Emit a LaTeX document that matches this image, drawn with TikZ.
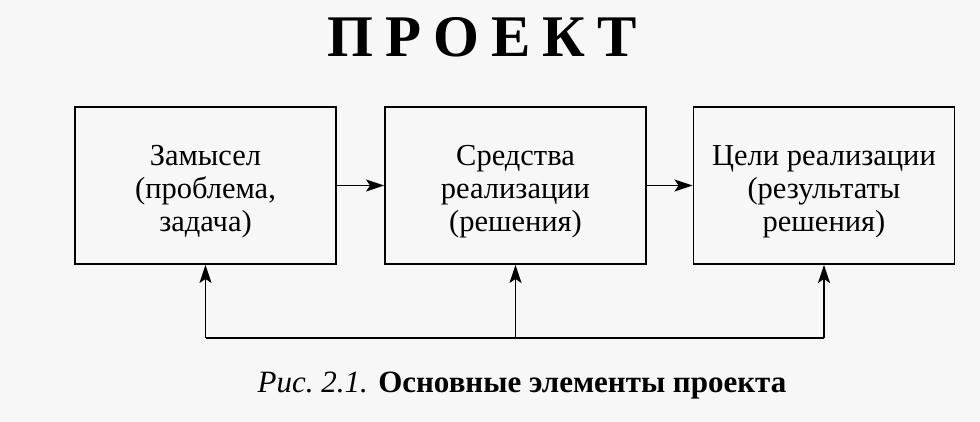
\documentclass[tikz,border=0pt]{standalone}
\usepackage{fontspec}
\setmainfont{Liberation Serif}
\usetikzlibrary{arrows.meta}
\definecolor{paper}{RGB}{247,247,247}
\tikzset{
  stage/.style={draw, line width=1.9pt, minimum width=261pt, minimum height=157pt,
    align=center, font=\fontsize{30.5}{33}\selectfont, inner sep=0pt,
    text height=100pt, text depth=8pt},
  flow/.style={line width=1.9pt, -{Stealth[length=18pt, width=12pt, inset=4pt]}},
}
\begin{document}
\begin{tikzpicture}[x=1pt, y=-1pt]
    \useasboundingbox[fill=paper] (0,0) rectangle (980,422);
    \node (title) at (482,37) {\fontsize{59}{60}\selectfont\bfseries П\hspace{12pt}Р\hspace{12pt}О\hspace{12pt}Е\hspace{12pt}К\hspace{12pt}Т};
    \node[stage] (zamysel) at (205.5,185.5) {Замысел\\(проблема,\\задача)};
    \node[stage] (sredstva) at (515.5,185.5) {Средства\\реализации\\(решения)};
    \node[stage] (celi) at (824,185.5) {Цели реализации\\(результаты\\решения)};
    \draw[flow] (zamysel) -- (sredstva);
    \draw[flow] (sredstva) -- (celi);
    % feedback line below the boxes
    \coordinate (fbA) at (zamysel.south |- 0,338);
    \coordinate (fbB) at (sredstva.south |- 0,338);
    \coordinate (fbC) at (celi.south |- 0,338);
    \draw[line width=1.9pt] (fbA) -- (fbC);
    \foreach \c/\b in {fbA/zamysel, fbB/sredstva, fbC/celi}
        \draw[flow] (\c) -- (\b.south);
    \node (caption) at (522,386) {\fontsize{31}{33}\selectfont\textit{Рис.\ 2.1.} \textbf{Основные элементы проекта}};
\end{tikzpicture}
\end{document}
